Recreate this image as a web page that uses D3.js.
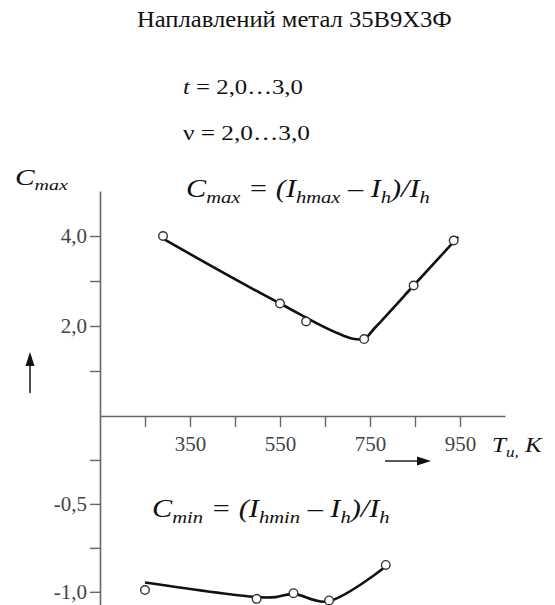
<!DOCTYPE html>
<html>
<head>
<meta charset="utf-8">
<script src="https://cdn.jsdelivr.net/npm/d3@7"></script>
<style>
  body { margin: 0; background: #fff; }
  svg { display: block; }
  text { white-space: pre; }
</style>
</head>
<body>
<svg id="chart"></svg>
<script>
const width = 555;
const height = 605;
const serif = '"Liberation Serif", "Times New Roman", serif';

// axis ticks
const tempTicks = [250, 350, 450, 550, 650, 750, 850, 950];
const tempLabels = [350, 550, 750, 950];
const cTicks = [-1, -0.75, -0.5, -0.25, 1, 2, 3, 4];
const cLabels = [-1, -0.5, 2, 4];

// C max: measured points and fitted curve
const maxT = [290, 550, 608, 737, 847, 936];
const maxC = [4.0, 2.5, 2.1, 1.71, 2.9, 3.9];
const maxFitT = [290, 550, 690, 712, 728, 738, 760, 847, 946];
const maxFitC = [3.94, 2.5, 1.79, 1.715, 1.70, 1.72, 1.95, 2.9, 3.98];

// C min: measured points and fitted curve
const minT = [250, 498, 580, 659, 785];
const minC = [-0.99, -1.04, -1.008, -1.049, -0.847];
const minFitT = [250, 498, 540, 580, 655, 785];
const minFitC = [-0.947, -1.03, -1.03, -1.012, -1.055, -0.856];

const svg = d3.select('#chart')
    .attr('width', width)
    .attr('height', height);

const x = d3.scaleLinear().domain([150, 1050]).range([100, 505]);
// broken scale: negative part is stretched
const y = d3.scaleLinear().domain([-1.075, 0, 5]).range([605, 416, 191]);

const fmt = d => d3.format('.1f')(d).replace('.', ',').replace('−', '-');

// y axis
const yAxis = svg.append('g')
    .attr('transform', `translate(${x(150)},0)`)
    .call(d3.axisLeft(y)
        .tickValues(cTicks)
        .tickSize(10)
        .tickSizeOuter(0)
        .tickPadding(3)
        .tickFormat(d => cLabels.includes(d) ? fmt(d) : ''));

// x axis
const xAxis = svg.append('g')
    .attr('transform', `translate(0,${y(0)})`)
    .call(d3.axisBottom(x)
        .tickValues(tempTicks)
        .tickSize(11)
        .tickSizeOuter(0)
        .tickPadding(9)
        .tickFormat(d => tempLabels.includes(d) ? d : ''));

[yAxis, xAxis].forEach(a => {
    a.select('.domain').attr('stroke', '#666').attr('stroke-width', 1.6);
    a.selectAll('.tick line').attr('stroke', '#666').attr('stroke-width', 1.4);
    a.selectAll('.tick text')
        .attr('font-family', serif)
        .attr('font-size', 21)
        .attr('fill', '#444');
});

// curves
const line = d3.line()
    .x(d => x(d[0]))
    .y(d => y(d[1]));

svg.append('path')
    .datum(maxFitT.map((t, i) => [t, maxFitC[i]]))
    .attr('d', line.curve(d3.curveMonotoneX))
    .attr('fill', 'none')
    .attr('stroke', '#111')
    .attr('stroke-width', 2.6);

svg.append('path')
    .datum(minFitT.map((t, i) => [t, minFitC[i]]))
    .attr('d', line.curve(d3.curveCatmullRom))
    .attr('fill', 'none')
    .attr('stroke', '#111')
    .attr('stroke-width', 2.6);

const pts = maxT.map((t, i) => [t, maxC[i]])
    .concat(minT.map((t, i) => [t, minC[i]]));

svg.selectAll('circle.pt')
    .data(pts)
    .enter().append('circle')
    .attr('class', 'pt')
    .attr('cx', d => x(d[0]))
    .attr('cy', d => y(d[1]))
    .attr('r', 4.3)
    .attr('fill', '#fff')
    .attr('stroke', '#333')
    .attr('stroke-width', 1.4);

// arrows
svg.append('line')
    .attr('x1', 30).attr('y1', 393).attr('x2', 30).attr('y2', 362)
    .attr('stroke', '#222').attr('stroke-width', 1.6);
svg.append('path')
    .attr('d', 'M30,352 L25.5,366 L34.5,366 Z')
    .attr('fill', '#111');
svg.append('line')
    .attr('x1', 385).attr('y1', 461).attr('x2', 420).attr('y2', 461)
    .attr('stroke', '#222').attr('stroke-width', 1.6);
svg.append('path')
    .attr('d', 'M431,461 L417,456.5 L417,465.5 Z')
    .attr('fill', '#111');

// text with subscripts, stretched to the width seen in the picture
const richText = (px, py, parts, size, targetW) => {
    const g = svg.append('g').attr('transform', `translate(${px},${py})`);
    const t = g.append('text')
        .attr('font-family', serif)
        .attr('font-size', size)
        .attr('fill', '#111');
    let shift = 0;
    parts.forEach(p => {
        const s = p.sub ? size * 0.22 : 0;
        const ts = t.append('tspan')
            .text(p.t)
            .attr('dy', s - shift)
            .attr('font-size', p.sub ? size * 0.68 : size);
        if (p.i) ts.attr('font-style', 'italic');
        shift = s;
    });
    if (targetW) {
        const w = t.node().getBBox().width;
        g.attr('transform', `translate(${px},${py}) scale(${targetW / w},1)`);
    }
};

richText(137, 27, [{ t: 'Наплавлений метал 35В9Х3Ф' }], 24, 315);
richText(183, 94, [{ t: 't', i: 1 }, { t: ' = 2,0…3,0' }], 22, 120);
richText(183, 140, [{ t: 'ν = 2,0…3,0' }], 22, 127);
richText(15, 185, [{ t: 'C', i: 1 }, { t: 'max', i: 1, sub: 1 }], 23, 53);
richText(186, 197, [
    { t: 'C', i: 1 }, { t: 'max', i: 1, sub: 1 }, { t: ' = (', i: 1 },
    { t: 'I', i: 1 }, { t: 'hmax', i: 1, sub: 1 }, { t: ' – ', i: 1 },
    { t: 'I', i: 1 }, { t: 'h', i: 1, sub: 1 }, { t: ')/', i: 1 },
    { t: 'I', i: 1 }, { t: 'h', i: 1, sub: 1 }
], 26, 244);
richText(152, 517, [
    { t: 'C', i: 1 }, { t: 'min', i: 1, sub: 1 }, { t: ' = (', i: 1 },
    { t: 'I', i: 1 }, { t: 'hmin', i: 1, sub: 1 }, { t: ' – ', i: 1 },
    { t: 'I', i: 1 }, { t: 'h', i: 1, sub: 1 }, { t: ')/', i: 1 },
    { t: 'I', i: 1 }, { t: 'h', i: 1, sub: 1 }
], 26, 238);
richText(492, 452, [{ t: 'T', i: 1 }, { t: 'u,', i: 1, sub: 1 }, { t: ' K', i: 1 }], 21, 51);
</script>
</body>
</html>
